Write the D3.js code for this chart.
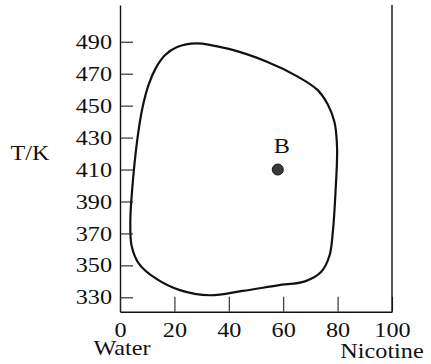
<!DOCTYPE html>
<html>
<head>
<meta charset="utf-8">
<script src="https://cdn.jsdelivr.net/npm/d3@7"></script>
<style>
  body { margin: 0; background: #fff; }
  svg text { font-family: "Liberation Serif", "Times New Roman", serif; fill: #111; }
</style>
</head>
<body>
<div id="chart"></div>
<script>
var svgWidth = 431;
var svgHeight = 364;

// composition, % nicotine (water on the left, nicotine on the right)
var xTicks = [0, 20, 40, 60, 80, 100];
var yTicks = [330, 350, 370, 390, 410, 430, 450, 470, 490];

// the closed two-liquid boundary (clockwise from the top)
var loopX = [28, 40, 54, 65, 72.5, 76.3, 78.8, 79.8, 79.2, 78.3, 77, 74, 68, 58, 45, 33, 22, 13, 7, 4.3, 3.8, 4.5, 6.3, 8.3, 10.5, 13, 16.5, 21];
var loopT = [489, 485.5, 477.5, 468.5, 460, 451, 440, 424, 395, 372, 356, 346, 340, 337.5, 334, 331.3, 334.5, 342, 351, 362, 378, 398, 428, 449, 463, 473, 481.5, 486.7];

// point B
var pointX = [58];
var pointT = [410];
var pointName = ["B"];

var fontSize = 22;
var stretch = 1.1;   // the type in the scan is a bit wide

var x = d3.scaleLinear().domain([0, 100]).range([120, 392]);
var y = d3.scaleLinear().domain([321, 513]).range([311.7, 5]);

var svg = d3.select("#chart")
    .append("svg")
    .attr("width", svgWidth)
    .attr("height", svgHeight);

// left axis, ticks pointing inwards
var leftAxis = d3.axisLeft(y)
    .tickValues(yTicks)
    .tickFormat(d3.format("d"))
    .tickSizeInner(-13)
    .tickSizeOuter(0)
    .tickPadding(8);

var gy = svg.append("g")
    .attr("transform", `translate(${x(0)},0)`)
    .call(leftAxis);

gy.select(".domain").attr("stroke", "#111").attr("stroke-width", 1.4);
gy.selectAll(".tick line").attr("stroke", "#222").attr("stroke-width", 1.1);
gy.selectAll(".tick text")
    .attr("font-size", fontSize)
    .attr("font-family", null)
    .attr("x", -8 / stretch)
    .attr("dy", "0.3em")
    .attr("transform", `scale(${stretch},1)`);

// bottom axis
var bottomAxis = d3.axisBottom(x)
    .tickValues(xTicks)
    .tickFormat(d3.format("d"))
    .tickSizeInner(-15)
    .tickSizeOuter(0)
    .tickPadding(10);

var gx = svg.append("g")
    .attr("transform", `translate(0,${y(321)})`)
    .call(bottomAxis);

gx.select(".domain").attr("stroke", "#111").attr("stroke-width", 1.4);
gx.selectAll(".tick line").attr("stroke", "#222").attr("stroke-width", 1.1);
gx.selectAll(".tick text")
    .attr("font-size", fontSize)
    .attr("font-family", null)
    .attr("transform", `scale(${stretch},1)`)
    .attr("x", 0);

// right edge at 100 % nicotine
svg.append("line")
    .attr("x1", x(100)).attr("x2", x(100))
    .attr("y1", y(513)).attr("y2", y(321))
    .attr("stroke", "#111")
    .attr("stroke-width", 1.4);

// the loop
var loop = loopX.map(function (d, i) { return [d, loopT[i]]; });

var line = d3.line()
    .x(d => x(d[0]))
    .y(d => y(d[1]))
    .curve(d3.curveCatmullRomClosed.alpha(0.5));

svg.append("path")
    .datum(loop)
    .attr("d", line)
    .attr("fill", "none")
    .attr("stroke", "#111")
    .attr("stroke-width", 2.2)
    .attr("stroke-linejoin", "round");

// point B
svg.selectAll(".pt")
    .data(pointX)
    .enter()
    .append("circle")
    .attr("class", "pt")
    .attr("cx", d => x(d))
    .attr("cy", (d, i) => y(pointT[i]))
    .attr("r", 5.5)
    .attr("fill", "#3a3a3a")
    .attr("stroke", "#111")
    .attr("stroke-width", 1);

svg.selectAll(".ptlabel")
    .data(pointName)
    .enter()
    .append("text")
    .attr("class", "ptlabel")
    .attr("text-anchor", "middle")
    .attr("font-size", fontSize)
    .attr("transform", (d, i) => `translate(${x(pointX[i]) + 4},${y(pointT[i]) - 17}) scale(${stretch},1)`)
    .text(d => d);

// axis titles
function label(txt, cx, cy) {
    svg.append("text")
        .attr("text-anchor", "middle")
        .attr("font-size", fontSize)
        .attr("transform", `translate(${cx},${cy}) scale(${stretch},1)`)
        .text(txt);
}

label("T/K", 30, 160);
label("Water", 122, 355);
label("Nicotine", 382, 358);
</script>
</body>
</html>
